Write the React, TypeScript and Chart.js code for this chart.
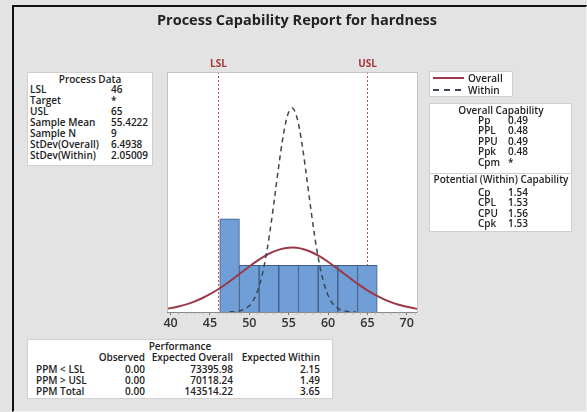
import React, { useEffect, useRef } from 'react';
import { Chart, registerables } from 'chart.js';

Chart.register(...registerables);

// ---------- data ----------
const binCenters = [47.5, 50, 52.5, 55, 57.5, 60, 62.5, 65];
const binCounts = [2, 1, 1, 1, 1, 1, 1, 1];

const overallX = [39.5, 40, 41, 42, 43, 44, 45, 46, 47, 48, 49, 50, 51, 52, 53, 54, 55, 56, 57, 58, 59, 60, 61, 62, 63, 64, 65, 66, 67, 68, 69, 70, 71, 71.5];
const overallY = [0.069, 0.083, 0.118, 0.163, 0.222, 0.295, 0.382, 0.483, 0.596, 0.72, 0.848, 0.976, 1.096, 1.203, 1.289, 1.349, 1.379, 1.377, 1.342, 1.277, 1.187, 1.078, 0.955, 0.827, 0.699, 0.577, 0.466, 0.367, 0.282, 0.212, 0.155, 0.111, 0.078, 0.064];

const withinX = [47.5, 48, 48.5, 49, 49.5, 50, 50.5, 51, 51.5, 52, 52.5, 53, 53.5, 54, 54.5, 55, 55.5, 56, 56.5, 57, 57.5, 58, 58.5, 59, 59.5, 60, 60.5, 61, 61.5, 62, 62.5, 63, 63.5];
const withinY = [0.003, 0.006, 0.015, 0.033, 0.068, 0.133, 0.246, 0.429, 0.704, 1.089, 1.588, 2.182, 2.824, 3.444, 3.959, 4.287, 4.375, 4.206, 3.811, 3.253, 2.617, 1.983, 1.416, 0.953, 0.604, 0.361, 0.203, 0.108, 0.054, 0.025, 0.011, 0.005, 0.002];

const specLabels = ['LSL', 'USL'];
const specValues = [46, 65];
const xTickLabels = ['40', '45', '50', '55', '60', '65', '70'];

const processLabels = ['LSL', 'Target', 'USL', 'Sample Mean', 'Sample N', 'StDev(Overall)', 'StDev(Within)'];
const processValues = ['46', '*', '65', '55.4222', '9', '6.4938', '2.05009'];

const overallCapLabels = ['Pp', 'PPL', 'PPU', 'Ppk', 'Cpm'];
const overallCapValues = ['0.49', '0.48', '0.49', '0.48', '*'];
const withinCapLabels = ['Cp', 'CPL', 'CPU', 'Cpk'];
const withinCapValues = ['1.54', '1.53', '1.56', '1.53'];

const perfRowLabels = ['PPM < LSL', 'PPM > USL', 'PPM Total'];
const perfObserved = ['0.00', '0.00', '0.00'];
const perfExpOverall = ['73395.98', '70118.24', '143514.22'];
const perfExpWithin = ['2.15', '1.49', '3.65'];

// ---------- styles ----------
const W = 587;
const H = 412;
const FONT = "'Open Sans', 'Noto Sans', sans-serif";
const TEXT = '#222222';
const BG = '#e3e3e3';
const OVERALL_COLOR = '#9a3947';
const WITHIN_COLOR = '#3d4653';
const SPEC_COLOR = '#c8504c';
const SPEC_LABEL_COLOR = '#a5363a';
const PANEL_SIZE = 10;

type TProps = { x: number; y: number; align?: 'left' | 'right' | 'center'; weight?: number; size?: number; color?: string; children: React.ReactNode };

function T({ x, y, align = 'left', weight = 600, size = PANEL_SIZE, color = TEXT, children }: TProps) {
  const style: React.CSSProperties = {
    position: 'absolute',
    top: y - 7,
    height: 14,
    lineHeight: '14px',
    fontSize: size,
    fontFamily: FONT,
    fontWeight: weight,
    color,
    whiteSpace: 'nowrap',
  };
  if (align === 'left') style.left = x;
  else if (align === 'right') style.right = W - x;
  else {
    style.left = x;
    style.transform = 'translateX(-50%)';
  }
  return <div style={style}>{children}</div>;
}

function Box({ x, y, w, h }: { x: number; y: number; w: number; h: number }) {
  return (
    <div
      style={{
        position: 'absolute',
        left: x,
        top: y,
        width: w,
        height: h,
        background: '#ffffff',
        border: '1px solid #d0d0d0',
        boxSizing: 'border-box',
      }}
    />
  );
}

const plotPlugin = {
  id: 'plotDecor',
  beforeDraw(chart: any) {
    const { ctx, chartArea } = chart;
    ctx.save();
    ctx.fillStyle = '#ffffff';
    ctx.fillRect(chartArea.left, chartArea.top, chartArea.right - chartArea.left, chartArea.bottom - chartArea.top);
    ctx.restore();
  },
  beforeDatasetsDraw(chart: any) {
    const { ctx, chartArea, scales } = chart;
    ctx.save();
    specValues.forEach((v, i) => {
      const px = Math.round(scales.x.getPixelForValue(v)) + 0.5;
      ctx.strokeStyle = SPEC_COLOR;
      ctx.lineWidth = 1;
      ctx.setLineDash([2, 2]);
      ctx.beginPath();
      ctx.moveTo(px, chartArea.top);
      ctx.lineTo(px, chartArea.bottom);
      ctx.stroke();
      ctx.setLineDash([]);
      ctx.fillStyle = SPEC_LABEL_COLOR;
      ctx.font = `bold 10px ${FONT}`;
      ctx.textAlign = 'center';
      ctx.textBaseline = 'middle';
      ctx.fillText(specLabels[i], px, chartArea.top - 8);
    });
    ctx.restore();
  },
  afterDraw(chart: any) {
    const { ctx, chartArea, scales } = chart;
    ctx.save();
    ctx.strokeStyle = '#c4c4c4';
    ctx.lineWidth = 1;
    ctx.strokeRect(
      Math.round(chartArea.left) + 0.5,
      Math.round(chartArea.top) + 0.5,
      Math.round(chartArea.right - chartArea.left),
      Math.round(chartArea.bottom - chartArea.top)
    );
    const yb = Math.round(chartArea.bottom) + 0.5;
    ctx.strokeStyle = '#8a8a8a';
    ctx.beginPath();
    ctx.moveTo(chartArea.left, yb);
    ctx.lineTo(chartArea.right, yb);
    ctx.stroke();
    // minor tick marks
    const sx = scales.x;
    ctx.strokeStyle = '#b8b8b8';
    for (let v = Math.ceil(sx.min); v <= Math.floor(sx.max); v++) {
      if (xTickLabels.includes(String(v))) continue;
      const px = Math.round(sx.getPixelForValue(v)) + 0.5;
      ctx.beginPath();
      ctx.moveTo(px, yb);
      ctx.lineTo(px, yb + 2);
      ctx.stroke();
    }
    ctx.restore();
  },
};

export default function App() {
  const canvasRef = useRef<HTMLCanvasElement | null>(null);

  useEffect(() => {
    if (!canvasRef.current) return;
    const chart = new Chart(canvasRef.current, {
      type: 'bar',
      data: {
        datasets: [
          {
            type: 'line',
            label: 'Within',
            data: withinX.map((x, i) => ({ x, y: withinY[i] })),
            borderColor: WITHIN_COLOR,
            borderWidth: 1.5,
            borderDash: [5, 4],
            pointRadius: 0,
            tension: 0.35,
            fill: false,
            clip: 0,
            order: 0,
          } as any,
          {
            type: 'line',
            label: 'Overall',
            data: overallX.map((x, i) => ({ x, y: overallY[i] })),
            borderColor: OVERALL_COLOR,
            borderWidth: 2,
            pointRadius: 0,
            tension: 0.35,
            fill: false,
            clip: 0,
            order: 1,
          } as any,
          {
            type: 'bar',
            label: 'Histogram',
            data: binCenters.map((x, i) => ({ x, y: binCounts[i] })),
            backgroundColor: '#709fd8',
            borderColor: '#3f5d85',
            borderWidth: 1,
            barPercentage: 1,
            categoryPercentage: 1,
            grouped: false,
            order: 2,
          } as any,
        ],
      },
      options: {
        animation: false,
        responsive: false,
        devicePixelRatio: 1,
        layout: { padding: { left: 167, right: 170, top: 72, bottom: 75 } },
        plugins: { legend: { display: false }, tooltip: { enabled: false }, title: { display: false } },
        scales: {
          x: {
            type: 'linear',
            offset: false,
            min: 39.55,
            max: 71.3,
            afterFit: (scale: any) => {
              scale.height = 25;
            },
            grid: {
              offset: false,
              drawOnChartArea: false,
              drawTicks: true,
              tickLength: 3,
              tickColor: '#777',
            },
            border: { display: false },
            ticks: {
              stepSize: 5,
              autoSkip: false,
              includeBounds: false,
              maxRotation: 0,
              padding: 1,
              color: '#333',
              font: { family: FONT, size: 12.5, weight: '600' },
              callback: (v: any) => (xTickLabels.includes(String(v)) ? String(v) : ''),
            },
          },
          y: { display: false, min: 0, max: 5.15 },
        },
      } as any,
      plugins: [plotPlugin],
    });
    return () => chart.destroy();
  }, []);

  const procTop = 89;
  const capTop = 120;
  const cap2Top = 191.5;
  const perfTop = 368.5;

  const dashBg = `repeating-linear-gradient(to right, ${WITHIN_COLOR} 0 6px, transparent 6px 11px)`;

  return (
    <div style={{ position: 'fixed', left: 0, top: 0, width: W, height: H, background: BG, overflow: 'hidden' }}>
      <div
        style={{
          position: 'absolute',
          left: 12,
          top: 5,
          width: W - 12,
          height: H - 5,
          borderLeft: '2px solid #111',
          borderTop: '2px solid #111',
          borderRight: '1px solid #f4f4f4',
          borderBottom: '1px solid #f4f4f4',
          boxSizing: 'border-box',
        }}
      />
      <canvas ref={canvasRef} width={W} height={H} style={{ position: 'absolute', left: 0, top: 0, width: W, height: H }} />

      <T x={297} y={20} align="center" weight={700} size={14.5} color="#222">Process Capability Report for hardness</T>

      {/* Process data */}
      <Box x={27} y={72} w={126} h={94} />
      <T x={90} y={78.5} align="center">Process Data</T>
      {processLabels.map((l, i) => (
        <React.Fragment key={l}>
          <T x={30} y={procTop + i * 11}>{l}</T>
          <T x={111} y={procTop + i * 11}>{processValues[i]}</T>
        </React.Fragment>
      ))}

      {/* Legend */}
      <Box x={429} y={71} w={84} h={26} />
      <div style={{ position: 'absolute', left: 433, top: 76.5, width: 31, height: 2, background: OVERALL_COLOR }} />
      <T x={468} y={77.5}>Overall</T>
      <div style={{ position: 'absolute', left: 433, top: 89, width: 28, height: 1.5, background: dashBg }} />
      <T x={468} y={89.5}>Within</T>

      {/* Capability */}
      <Box x={429} y={103} w={143} h={129} />
      <div style={{ position: 'absolute', left: 430, top: 173, width: 141, borderTop: '1px solid #d0d0d0' }} />
      <T x={501} y={109.5} align="center">Overall Capability</T>
      {overallCapLabels.map((l, i) => (
        <React.Fragment key={l}>
          <T x={478} y={capTop + i * 10.4}>{l}</T>
          <T x={508} y={capTop + i * 10.4}>{overallCapValues[i]}</T>
        </React.Fragment>
      ))}
      <T x={501} y={179} align="center">Potential (Within) Capability</T>
      {withinCapLabels.map((l, i) => (
        <React.Fragment key={l}>
          <T x={478} y={cap2Top + i * 10.5}>{l}</T>
          <T x={508} y={cap2Top + i * 10.5}>{withinCapValues[i]}</T>
        </React.Fragment>
      ))}

      {/* Performance */}
      <Box x={27} y={339} w={306} h={60} />
      <T x={180} y={346} align="center">Performance</T>
      <T x={145} y={357} align="right">Observed</T>
      <T x={233} y={357} align="right">Expected Overall</T>
      <T x={320} y={357} align="right">Expected Within</T>
      {perfRowLabels.map((l, i) => (
        <React.Fragment key={l}>
          <T x={36} y={perfTop + i * 11}>{l}</T>
          <T x={145} y={perfTop + i * 11} align="right">{perfObserved[i]}</T>
          <T x={233} y={perfTop + i * 11} align="right">{perfExpOverall[i]}</T>
          <T x={320} y={perfTop + i * 11} align="right">{perfExpWithin[i]}</T>
        </React.Fragment>
      ))}
    </div>
  );
}
